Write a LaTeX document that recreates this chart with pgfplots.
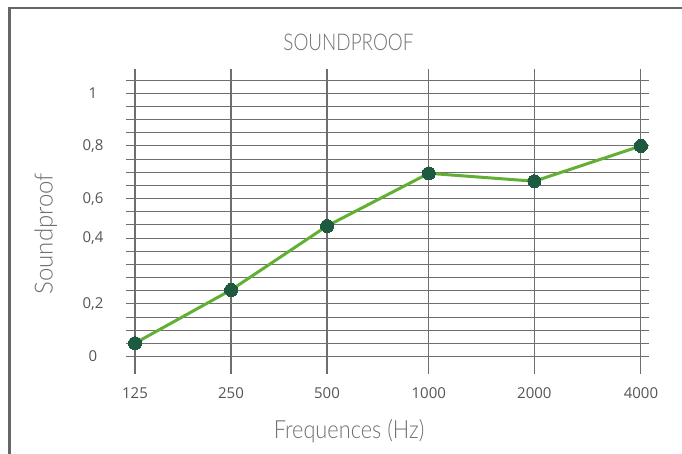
\documentclass[border=0pt]{standalone}
\usepackage{fontspec}
\setmainfont{Open Sans}
\newfontfamily\condfont{Lato Light}[FakeStretch=0.82]
\newfontfamily\condfontx{Lato Light}[FakeStretch=0.87]
\newfontfamily\condfonty{Lato Light}[FakeStretch=0.96]
\usepackage{pgfplots}
\pgfplotsset{compat=1.18}
\definecolor{linegreen}{HTML}{62B033}
\definecolor{markgreen}{HTML}{1D5A3F}
\definecolor{gridgray}{HTML}{6E6E6E}
\definecolor{txtgray}{HTML}{555555}
\definecolor{lblgray}{HTML}{707070}
\definecolor{framegray}{HTML}{666666}
\begin{document}
\begin{tikzpicture}[x=1pt,y=1pt]
\path[use as bounding box] (0,0) rectangle (682,454);
\draw[framegray, line width=2.6pt] (9.3,0) -- (9.3,446) -- (682,446);
\begin{axis}[
  at={(126pt,80pt)}, anchor=south west,
  scale only axis, width=523pt, height=304.7pt,
  xmin=-0.094, xmax=5.354, ymin=-0.066, ymax=1.091,
  axis line style={draw=none},
  major tick length=0pt,
  xtick={0,1,2,3.06,4.16,5.27},
  xticklabels={125,250,500,1000,2000,4000},
  ytick={0,0.05,0.1,0.15,0.2,0.25,0.3,0.35,0.4,0.45,0.5,0.55,0.6,0.65,0.7,0.75,0.8,0.85,0.9,0.95,1,1.05},
  yticklabels={0,,,,{0,2},,,,,{0,4},,,{0,6},,,,{0,8},,,,1,},
  grid=major,
  major grid style={gridgray, line width=1.1pt},
  ticklabel style={font=\fontsize{15}{18}\selectfont, text=txtgray},
  xticklabel style={anchor=center, yshift=-19pt},
  yticklabel style={anchor=center, xshift=-33pt},
  title={SOUNDPROOF},
  title style={at={(rel axis cs:0.4254,1.070)}, anchor=center, font=\condfont\fontsize{23}{26}\selectfont, text=lblgray},
  xlabel={Frequences (Hz)},
  xlabel style={at={(rel axis cs:0.4264,-0.188)}, anchor=center, font=\condfontx\fontsize{25}{28}\selectfont, text=lblgray},
  ylabel={Soundproof},
  ylabel style={at={(rel axis cs:-0.1535,0.4605)}, anchor=center, rotate=0, font=\condfonty\fontsize{25}{28}\selectfont, text=lblgray},
  clip=false,
]
\addplot[linegreen, line width=3pt, mark=*, mark size=6.5pt, mark options={draw=markgreen, fill=markgreen, line width=0pt}]
  coordinates {(0,0.051) (1,0.253) (2,0.496) (3.06,0.696) (4.16,0.666) (5.27,0.80)};
\end{axis}
\end{tikzpicture}
\end{document}
